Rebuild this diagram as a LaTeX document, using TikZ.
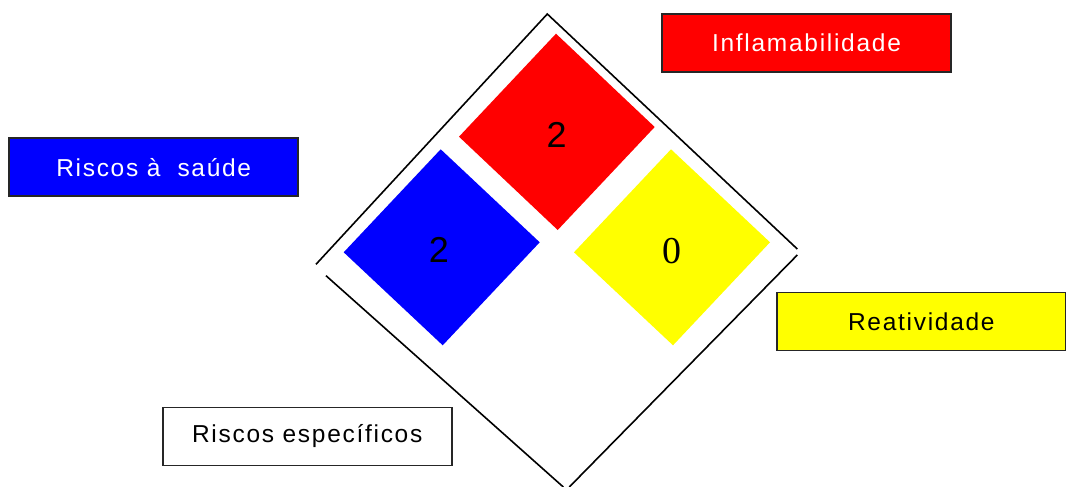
\documentclass[tikz,border=0pt]{standalone}
\usepackage{fontspec}
\newfontfamily\lblfont[LetterSpace=7]{Liberation Sans}
\newfontfamily\digsans{Liberation Sans}
\newfontfamily\digserif{Liberation Serif}
\definecolor{nfpared}{RGB}{255,0,0}
\definecolor{nfpablue}{RGB}{0,0,255}
\definecolor{nfpayellow}{RGB}{255,255,0}
\begin{document}
\begin{tikzpicture}[x=1pt,y=-1pt,
  lblbox/.style={draw=black!85,line width=1.8pt,minimum width=289pt,minimum height=58pt,inner sep=0pt,
    font=\lblfont\fontsize{24.5}{27}\selectfont},
  outline/.style={draw=black,line width=1.6pt},
  digit/.style={inner sep=0pt,font=\digsans\fontsize{36}{40}\selectfont},
  digitserif/.style={inner sep=0pt,font=\digserif\fontsize{38}{40}\selectfont}]
\useasboundingbox (0,0) rectangle (1066,487);
% outline diamond
\coordinate (top) at (547.3,14);
\coordinate (lend) at (316,264.3);
\coordinate (rend) at (797.3,249);
\coordinate (rstart) at (797.3,255);
\coordinate (bR) at (569.3,487);
\coordinate (lstart) at (326,275.7);
\coordinate (bL) at (563.3,487);
\draw[outline] (lend) -- (top) -- (rend);
\draw[outline] (rstart) -- (bR);
\draw[outline] (lstart) -- (bL);
% colored diamonds
\fill[nfpared] (556,33.7) -- (654.7,127) -- (557.7,230) -- (459,136.7) -- cycle;
\fill[nfpablue] (440.7,149.3) -- (539.7,242.3) -- (442.7,345.3) -- (343.7,252.3) -- cycle;
\fill[nfpayellow] (671,149.3) -- (770,242.3) -- (673,345.3) -- (574,252.3) -- cycle;
% digits
\node[digit] (dred) at (556.7,135) {2};
\node[digit] (dblue) at (439,250) {2};
\node[digitserif] (dyellow) at (671.5,251) {0};
% label boxes
\node[lblbox,fill=nfpared,text=white] (infl) at (806.5,43.2) {Inflamabilidade};
\node[lblbox,fill=nfpablue,text=white] (saude) at (153.7,167.2) {Riscos à\ \ saúde};
\node[lblbox,fill=nfpayellow,text=black] (reat) at (921.3,321.4) {Reatividade};
\node[lblbox,fill=white,text=black] (espec) at (307.2,436.5) {Riscos específicos};
\end{tikzpicture}
\end{document}
